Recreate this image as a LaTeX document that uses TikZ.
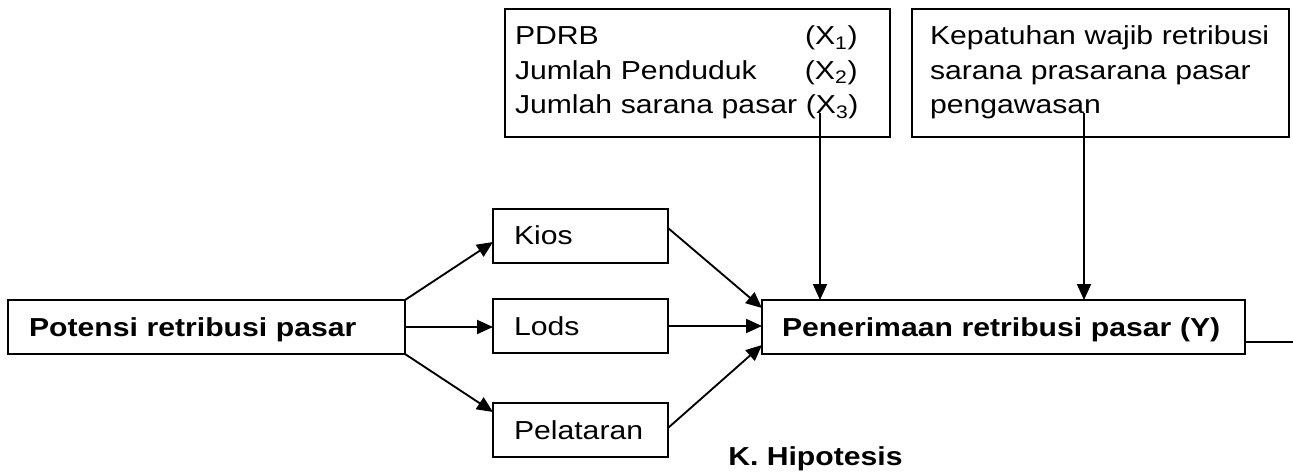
\documentclass[tikz,border=0pt]{standalone}
\usepackage{fontspec}
\setmainfont[FakeStretch=1.16]{Liberation Sans}
\usetikzlibrary{arrows.meta}
\newlength\px \setlength\px{0.75pt}
\newcommand\F{\fontsize{19.5}{25.875}\selectfont}
\begin{document}
\begin{tikzpicture}[x=0.75pt,y=-0.75pt,
  box/.style={draw, line width=1.4pt, anchor=north west, align=left, inner ysep=0pt, outer sep=0pt,
    text height=36\px, text depth=18\px},
  arr/.style={line width=1.4pt, -{Triangle[length=12pt,width=10.5pt]}},
  plain/.style={line width=1.4pt}]
\fill[white] (0,0) rectangle (1293,474);
\useasboundingbox (0,0) rectangle (1293,474);

\node[box, font=\F\bfseries, inner xsep=21\px, text width=355\px] (pot) at (8,300) {Potensi retribusi pasar};
\node[box, font=\F, inner xsep=21\px, text width=133\px] (kios) at (493,209) {Kios};
\node[box, font=\F, inner xsep=21\px, text width=133\px] (lods) at (493,299) {Lods};
\node[box, font=\F, inner xsep=21\px, text width=133\px] (pel) at (493,403) {Pelataran};
\node[box, font=\F\bfseries, inner xsep=20\px, text width=443\px] (pen) at (762,300) {Penerimaan retribusi pasar (Y)};
\node[box, font=\F, inner xsep=10\px, text width=365\px, text height=36\px, text depth=92\px] (tb1) at (505,9)
  {\makebox[290\px][l]{PDRB}(X\textsubscript{1})\\
   \makebox[290\px][l]{Jumlah Penduduk}(X\textsubscript{2})\\
   Jumlah sarana pasar (X\textsubscript{3})};
\node[box, font=\F, inner xsep=18\px, text width=341\px, text height=36\px, text depth=92\px] (tb2) at (912,9)
  {Kepatuhan wajib retribusi\\
   sarana prasarana pasar\\
   pengawasan};
\node[font=\F\bfseries, anchor=base west, inner sep=0pt] (hyp) at (728,465) {K. Hipotesis};

\draw[arr] (pot.north east) -- ([yshift=-4.5pt]kios.west);
\draw[arr] (pot.east) -- (pot.east -| lods.west);
\draw[arr] (pot.south east) -- ([yshift=13.5pt]pel.west);
\draw[arr] ([yshift=6pt]kios.east) -- ([yshift=14.25pt]pen.west);
\draw[arr] (lods.east) -- (lods.east -| pen.west);
\draw[arr] ([yshift=1.5pt]pel.east) -- ([yshift=-13.5pt]pen.west);
\coordinate (s1) at (820,113);
\coordinate (s2) at (1084,113);
\draw[arr] (s1) -- (s1 |- pen.north);
\draw[arr] (s2) -- (s2 |- pen.north);
\coordinate (e) at (1293,342);
\draw[plain] ([yshift=-11.25pt]pen.east) -- (e);
\end{tikzpicture}
\end{document}
